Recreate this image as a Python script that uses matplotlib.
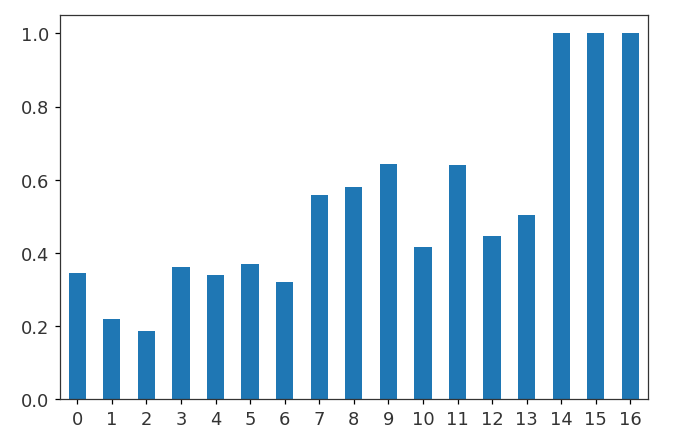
import matplotlib
matplotlib.use('Agg')
import matplotlib.pyplot as plt
import pandas as pd

# valores
categorias = list(range(17))
valores = [0.344, 0.218, 0.185, 0.362, 0.339, 0.369, 0.319, 0.557, 0.581,
           0.644, 0.416, 0.639, 0.446, 0.504, 1.0, 1.0, 1.0]

serie = pd.Series(valores, index=categorias)

plt.rcParams['xtick.labelsize'] = 11.5
plt.rcParams['ytick.labelsize'] = 11.5
plt.rcParams['text.color'] = '#333333'
plt.rcParams['xtick.labelcolor'] = '#333333'
plt.rcParams['ytick.labelcolor'] = '#333333'

fig, ax = plt.subplots(figsize=(6.0, 3.881), dpi=112.33)
fig.subplots_adjust(left=0.089, right=0.961, top=0.963, bottom=0.083)

serie.plot(kind='bar', ax=ax, color='#1f77b4', rot=0)
for lado in ax.spines.values():
    lado.set_color('#333333')

fig.savefig('out.png', dpi=112.33)
